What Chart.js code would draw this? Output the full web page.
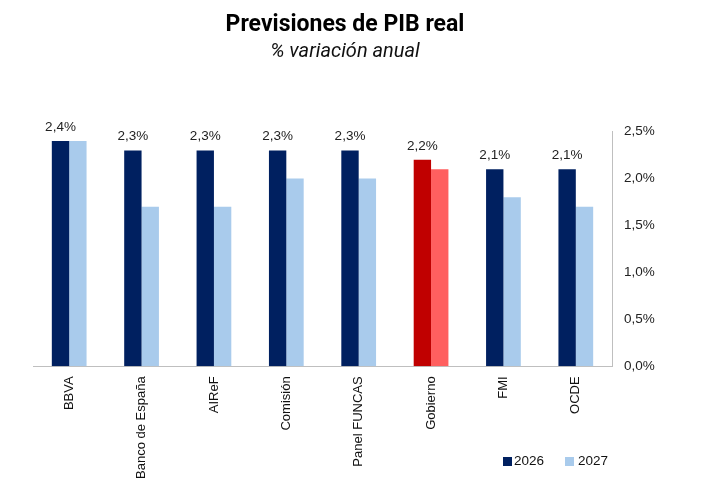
<!DOCTYPE html>
<html>
<head>
<meta charset="utf-8">
<script src="https://cdn.jsdelivr.net/npm/chart.js@4.4.1/dist/chart.umd.min.js"></script>
<style>
  html, body { margin: 0; padding: 0; background: #fff; }
  #wrap { position: relative; width: 702px; height: 497px; }
  #legend { position: absolute; left: 0; top: 0; width: 702px; height: 497px; pointer-events: none;
            font-family: "Liberation Sans", Arial, sans-serif; font-size: 13.5px; color: #111; }
  .sq { position: absolute; width: 9px; height: 9px; }
  .lt { position: absolute; line-height: 14px; }
</style>
</head>
<body>
<div id="wrap">
  <canvas id="c" width="702" height="497"></canvas>
  <div id="legend"></div>
</div>
<script>
const categories = ['BBVA', 'Banco de España', 'AIReF', 'Comisión', 'Panel FUNCAS', 'Gobierno', 'FMI', 'OCDE'];
const series2026 = [2.4, 2.3, 2.3, 2.3, 2.3, 2.2, 2.1, 2.1];
const series2027 = [2.4, 1.7, 1.7, 2.0, 2.0, 2.1, 1.8, 1.7];
const seriesNames = ['2026', '2027'];
const yTicks = [0, 0.5, 1.0, 1.5, 2.0, 2.5];
const highlightCategory = 'Gobierno';

const NAVY = '#002060', LIGHT = '#A9CBEC', RED = '#C00000', LIGHTRED = '#FF5F5F';
const fmt = v => v.toFixed(1).replace('.', ',') + '%';

const colors2026 = categories.map(c => c === highlightCategory ? RED : NAVY);
const colors2027 = categories.map(c => c === highlightCategory ? LIGHTRED : LIGHT);

const barLabels = {
  id: 'barLabels',
  afterDatasetsDraw(chart) {
    const ctx = chart.ctx;
    const meta = chart.getDatasetMeta(0);
    ctx.save();
    ctx.font = '13.5px "Liberation Sans", Arial, sans-serif';
    ctx.fillStyle = '#222';
    ctx.textAlign = 'center';
    ctx.textBaseline = 'alphabetic';
    meta.data.forEach((bar, i) => {
      ctx.fillText(fmt(series2026[i]), bar.x, bar.y - 10);
    });
    ctx.restore();
  }
};

Chart.defaults.font.family = '"Liberation Sans", Arial, sans-serif';

new Chart(document.getElementById('c'), {
  type: 'bar',
  data: {
    labels: categories,
    datasets: [
      { label: seriesNames[0], data: series2026, backgroundColor: colors2026,
        categoryPercentage: 0.48, barPercentage: 1.0 },
      { label: seriesNames[1], data: series2027, backgroundColor: colors2027,
        categoryPercentage: 0.48, barPercentage: 1.0 }
    ]
  },
  options: {
    responsive: false,
    animation: false,
    layout: { padding: { left: 33, right: 45, top: 11, bottom: 8 } },
    plugins: {
      legend: { display: false },
      tooltip: { enabled: false },
      title: {
        display: true,
        text: 'Previsiones de PIB real',
        color: '#000',
        font: { family: 'Roboto', size: 23, weight: 'bold' },
        padding: { top: 0, bottom: 1 }
      },
      subtitle: {
        display: true,
        text: '% variación anual',
        color: '#111',
        font: { family: 'Roboto', size: 20, style: 'italic', weight: 'normal' },
        padding: { top: 0, bottom: 68 }
      }
    },
    scales: {
      x: {
        grid: { display: false, drawTicks: false },
        border: { display: true, color: '#BFBFBF', width: 1 },
        ticks: {
          color: '#111', font: { size: 13 }, minRotation: 90, maxRotation: 90,
          autoSkip: false, padding: 10
        }
      },
      y: {
        position: 'right',
        min: 0, max: 2.5,
        afterBuildTicks: axis => { axis.ticks = yTicks.map(v => ({ value: v })); },
        afterFit: axis => { axis.width = 45; },
        grid: { display: false, drawTicks: false },
        border: { display: true, color: '#BFBFBF', width: 1 },
        ticks: { color: '#222', font: { size: 13.5 }, padding: 12, callback: v => fmt(v) }
      }
    }
  },
  plugins: [barLabels]
});

// legend (HTML text)
const lg = document.getElementById('legend');
const legendItems = [
  { name: seriesNames[0], color: NAVY, sqX: 503, txX: 514 },
  { name: seriesNames[1], color: LIGHT, sqX: 565, txX: 578 }
];
legendItems.forEach(it => {
  const s = document.createElement('div');
  s.className = 'sq'; s.style.left = it.sqX + 'px'; s.style.top = '457px'; s.style.background = it.color;
  lg.appendChild(s);
  const t = document.createElement('div');
  t.className = 'lt'; t.style.left = it.txX + 'px'; t.style.top = '454px'; t.textContent = it.name;
  lg.appendChild(t);
});
</script>
</body>
</html>
